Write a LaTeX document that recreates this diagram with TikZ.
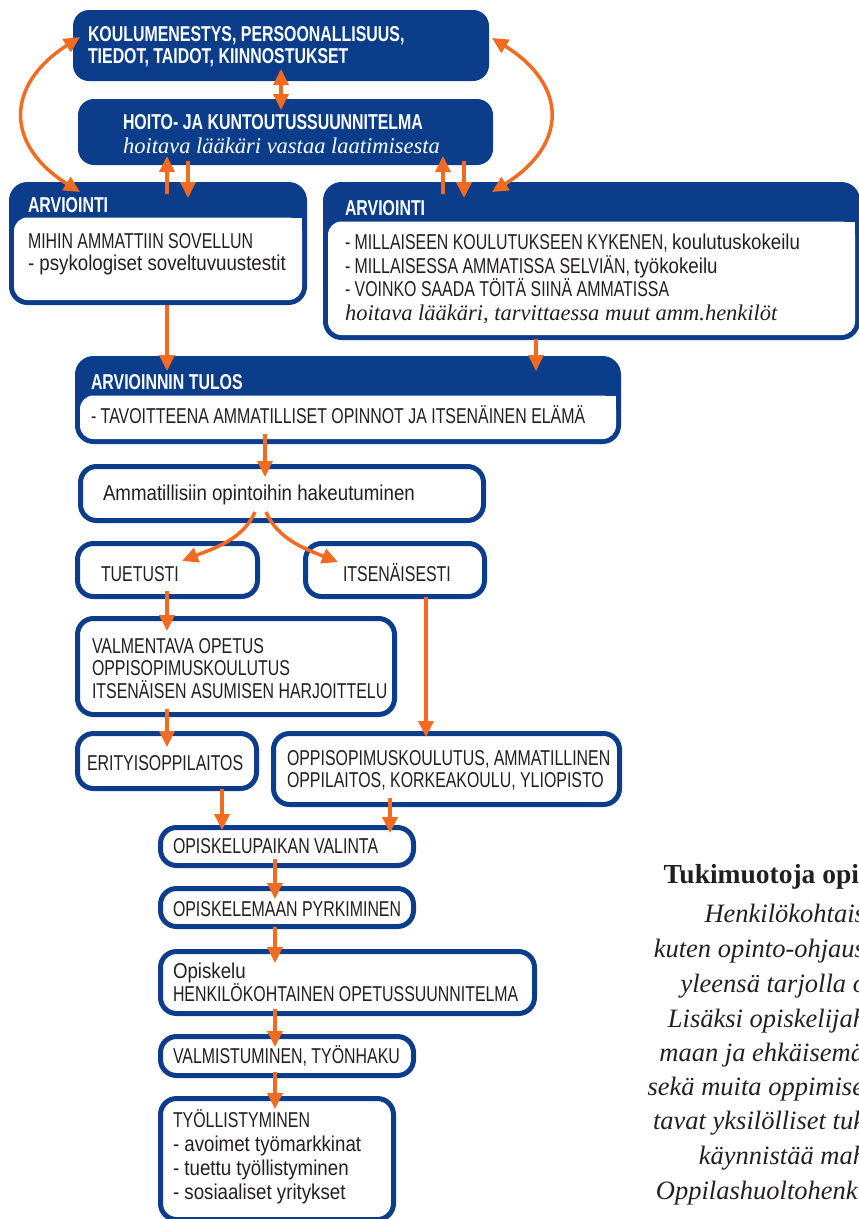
\documentclass[tikz,border=0pt]{standalone}
\usepackage{fontspec}
\setmainfont{Liberation Serif}
\newfontfamily\cnd[FakeStretch=0.74]{Liberation Sans}
\newfontfamily\cndlc[FakeStretch=0.87]{Liberation Sans}
\newcommand{\lc}[1]{{\cndlc #1}}
\usetikzlibrary{arrows.meta,calc}
\definecolor{navy}{HTML}{0B3D8B}
\definecolor{orng}{HTML}{F26B21}
\definecolor{ink}{HTML}{231F20}
% white body of a box with a blue header band
\newcommand{\hbody}[2]{%
  \fill[white, rounded corners=13.5pt] ($(#1.north west)+(2.5,-#2)$) rectangle ($(#1.south east)+(-2.5,2.5)$);
  \fill[white] ($(#1.north east)+(-20,-#2)$) rectangle ($(#1.north east)+(-2.5,-#2-20)$);}

\begin{document}
\begin{tikzpicture}[x=1pt,y=1pt,
    fillbox/.style={fill=navy, rounded corners=16pt, anchor=north west, inner sep=0pt, outer sep=0pt},
    boxo/.style={draw=navy, line width=5pt, fill=white, rounded corners=16pt, anchor=north west, inner sep=0pt, outer sep=0pt},
    hbox/.style={boxo, fill=navy},
    txt/.style={anchor=base west, inner sep=0pt, outer sep=0pt, align=left, text=ink, font=\cnd\fontsize{21.5}{22.5}\selectfont},
    wtxt/.style={txt, text=white, font=\cnd\bfseries\fontsize{21.5}{21.5}\selectfont},
    sidetxt/.style={anchor=base east, inner sep=0pt, outer sep=0pt, text=ink, font=\itshape\fontsize{26.5}{31}\selectfont},
    arr/.style={draw=orng, line width=3.5pt, -{Triangle[length=16pt,width=15pt]}},
    arrr/.style={arr, {Triangle[length=16pt,width=15pt]}-{Triangle[length=16pt,width=15pt]}}
  ]
  \useasboundingbox (0,0) rectangle (859,-1219);
  \clip (0,0) rectangle (859,-1219);

  % top boxes (multi-line texts sit on their last baseline)
  \node[fillbox, minimum width=416pt, minimum height=71pt] (top) at (73,-10) {};
  \node[wtxt] (topT) at (88,-63) {KOULUMENESTYS, PERSOONALLISUUS,\\TIEDOT, TAIDOT, KIINNOSTUKSET};
  \node[fillbox, minimum width=415pt, minimum height=66pt] (plan) at (78,-99) {};
  \node[wtxt] (planT) at (123,-153) {HOITO- JA KUNTOUTUSSUUNNITELMA\\[2.5pt]{\rmfamily\mdseries\itshape\fontsize{22.5}{24}\selectfont hoitava lääkäri vastaa laatimisesta}};

  % assessment boxes
  \node[hbox, minimum width=293pt, minimum height=118pt] (arvL) at (11.5,-184.5) {};
  \hbody{arvL}{33}
  \node[wtxt] (arvLH) at (28,-212) {ARVIOINTI};
  \node[txt, font=\cnd\fontsize{21.5}{22}\selectfont] (arvLT) at (28,-270) {MIHIN AMMATTIIN SOVELLUN\\\lc{- psykologiset soveltuvuustestit}};

  \node[hbox, minimum width=532pt, minimum height=153pt] (arvR) at (325.5,-184.5) {};
  \hbody{arvR}{37}
  \node[wtxt] (arvRH) at (345,-215) {ARVIOINTI};
  \node[txt, font=\cnd\fontsize{21.5}{23.4}\selectfont] (arvRT) at (345,-320) {- MILLAISEEN KOULUTUKSEEN KYKENEN, \lc{koulutuskokeilu}\\- MILLAISESSA AMMATISSA SELVIÄN, \lc{työkokeilu}\\- VOINKO SAADA TÖITÄ SIINÄ AMMATISSA\\{\rmfamily\itshape\fontsize{22.5}{23.4}\selectfont hoitava lääkäri, tarvittaessa muut amm.henkilöt}};

  \node[hbox, minimum width=541pt, minimum height=83pt] (tulos) at (77.5,-358.5) {};
  \hbody{tulos}{37}
  \node[wtxt] (tulosH) at (91,-389) {ARVIOINNIN TULOS};
  \node[txt] (tulosT) at (91,-423) {- TAVOITTEENA AMMATILLISET OPINNOT JA ITSENÄINEN ELÄMÄ};

  % path boxes
  \node[boxo, minimum width=403pt, minimum height=54pt] (haku) at (80.5,-466.5) {};
  \node[txt] (hakuT) at (103,-500) {\lc{Ammatillisiin opintoihin hakeutuminen}};
  \node[boxo, minimum width=180pt, minimum height=53pt] (tue) at (77.5,-543.5) {};
  \node[txt] (tueT) at (101,-581) {TUETUSTI};
  \node[boxo, minimum width=179pt, minimum height=53pt] (its) at (305.5,-543.5) {};
  \node[txt] (itsT) at (343,-581) {ITSENÄISESTI};
  \node[boxo, minimum width=317pt, minimum height=96pt] (valm) at (77.5,-618.5) {};
  \node[txt] (valmT) at (92,-698) {VALMENTAVA OPETUS\\OPPISOPIMUSKOULUTUS\\ITSENÄISEN ASUMISEN HARJOITTELU};
  \node[boxo, minimum width=179pt, minimum height=55pt] (eri) at (77.5,-733.5) {};
  \node[txt] (eriT) at (87,-770) {ERITYISOPPILAITOS};
  \node[boxo, minimum width=346pt, minimum height=71pt] (opp) at (273.5,-733.5) {};
  \node[txt, font=\cnd\fontsize{21.5}{22}\selectfont] (oppT) at (287,-787) {OPPISOPIMUSKOULUTUS, AMMATILLINEN\\OPPILAITOS, KORKEAKOULU, YLIOPISTO};
  \node[boxo, minimum width=253pt, minimum height=38pt] (valinta) at (160.5,-827.5) {};
  \node[txt] (valintaT) at (173,-853) {OPISKELUPAIKAN VALINTA};
  \node[boxo, minimum width=253pt, minimum height=38pt] (pyrk) at (160.5,-888.5) {};
  \node[txt] (pyrkT) at (173,-916) {OPISKELEMAAN PYRKIMINEN};
  \node[boxo, minimum width=374pt, minimum height=62pt] (opisk) at (160.5,-951.5) {};
  \node[txt, font=\cnd\fontsize{21.5}{23}\selectfont] (opiskT) at (173,-1001) {\lc{Opiskelu}\\HENKILÖKOHTAINEN OPETUSSUUNNITELMA};
  \node[boxo, minimum width=253pt, minimum height=39pt] (valmis) at (160.5,-1036.5) {};
  \node[txt] (valmisT) at (173,-1063) {VALMISTUMINEN, TYÖNHAKU};
  \node[boxo, minimum width=233pt, minimum height=121pt] (tyo) at (160.5,-1098.5) {};
  \node[txt, font=\cnd\fontsize{21.5}{24}\selectfont] (tyoT) at (173,-1199) {TYÖLLISTYMINEN\\\lc{- avoimet työmarkkinat}\\\lc{- tuettu työllistyminen}\\\lc{- sosiaaliset yritykset}};

  % arrows
  \draw[arrr] ($(top.south)+(0,12)$) -- ($(top.south |- plan.north)+(0,-11)$);
  \draw[arrr] ($(top.west)+(7,8.5)$) .. controls +(-75,-48) and +(-75,47) .. ($(arvL.north west)+(68.5,-7.5)$);
  \draw[arrr] ($(top.east)+(3,7.5)$) .. controls +(76,-47) and +(76,47) .. ($(arvR.north west)+(166.5,-7.5)$);
  \draw[arr] ($(arvL.north west)+(155.5,-9.5)$) -- ($(plan.south west)+(89,9)$);
  \draw[arr] ($(plan.south west)+(110,4)$) -- ($(arvL.north west)+(176.5,-13.5)$);
  \draw[arr] ($(arvR.north west)+(117.5,-9.5)$) -- ($(plan.south west)+(365,9)$);
  \draw[arr] ($(plan.south west)+(386,4)$) -- ($(arvR.north west)+(138.5,-13.5)$);
  \draw[arr] ($(arvL.south west)+(155.5,-2.5)$) -- ($(tulos.north west)+(89.5,-12.5)$);
  \draw[arr] ($(arvR.south west)+(210.5,-1)$) -- ($(tulos.north west)+(458.5,-12.5)$);
  \draw[arr] ($(tulos.south west)+(187.5,8)$) -- ($(haku.north west)+(184.5,-10.5)$);
  \draw[arr] ($(haku.south west)+(174.5,8.5)$) .. controls +(-12,-28) and +(30,12) .. ($(tue.north west)+(104.5,-17.5)$);
  \draw[arr] ($(haku.south west)+(185.5,8.5)$) .. controls +(12,-28) and +(-30,12) .. ($(its.north west)+(32.5,-18.5)$);
  \draw[arr] ($(tue.south west)+(89.5,6)$) -- ($(valm.north west)+(89.5,-12.5)$);
  \draw[arr] ($(its.south west)+(120.5,0)$) -- ($(opp.north west)+(152.5,-3.5)$);
  \draw[arr] ($(valm.south west)+(89.5,6)$) -- ($(eri.north west)+(89.5,-13.5)$);
  \draw[arr] ($(eri.south west)+(144.5,0)$) -- ($(valinta.north west)+(61.5,-2.5)$);
  \draw[arr] ($(opp.south west)+(116.5,7)$) -- ($(valinta.north west)+(229.5,-5.5)$);
  \draw[arr] ($(valinta.south west)+(114.5,7)$) -- ($(pyrk.north west)+(114.5,-10.5)$);
  \draw[arr] ($(pyrk.south west)+(114.5,0)$) -- ($(opisk.north west)+(114.5,-11.5)$);
  \draw[arr] ($(opisk.south west)+(114.5,4.5)$) -- ($(valmis.north west)+(114.5,-10.5)$);
  \draw[arr] ($(valmis.south west)+(114.5,3.5)$) -- ($(tyo.north west)+(114.5,-10.5)$);

  % text column on the right, cut by the page edge
  \node[sidetxt, font=\bfseries\fontsize{27.5}{31}\selectfont] (tukiH) at (859,-883) {Tukimuotoja opi};
  \node[sidetxt] (tuki1) at (865,-922) {Henkilökohtais};
  \node[sidetxt] (tuki2) at (865,-957) {kuten opinto-ohjaus};
  \node[sidetxt] (tuki3) at (866,-992) {yleensä tarjolla o};
  \node[sidetxt] (tuki4) at (866,-1027) {Lisäksi opiskelijah};
  \node[sidetxt] (tuki5) at (864,-1061) {maan ja ehkäisemä};
  \node[sidetxt] (tuki6) at (864,-1095) {sekä muita oppimise};
  \node[sidetxt] (tuki7) at (865,-1129) {tavat yksilölliset tuk};
  \node[sidetxt] (tuki8) at (866,-1164) {käynnistää mah};
  \node[sidetxt] (tuki9) at (865,-1199) {Oppilashuoltohenki};
\end{tikzpicture}
\end{document}
